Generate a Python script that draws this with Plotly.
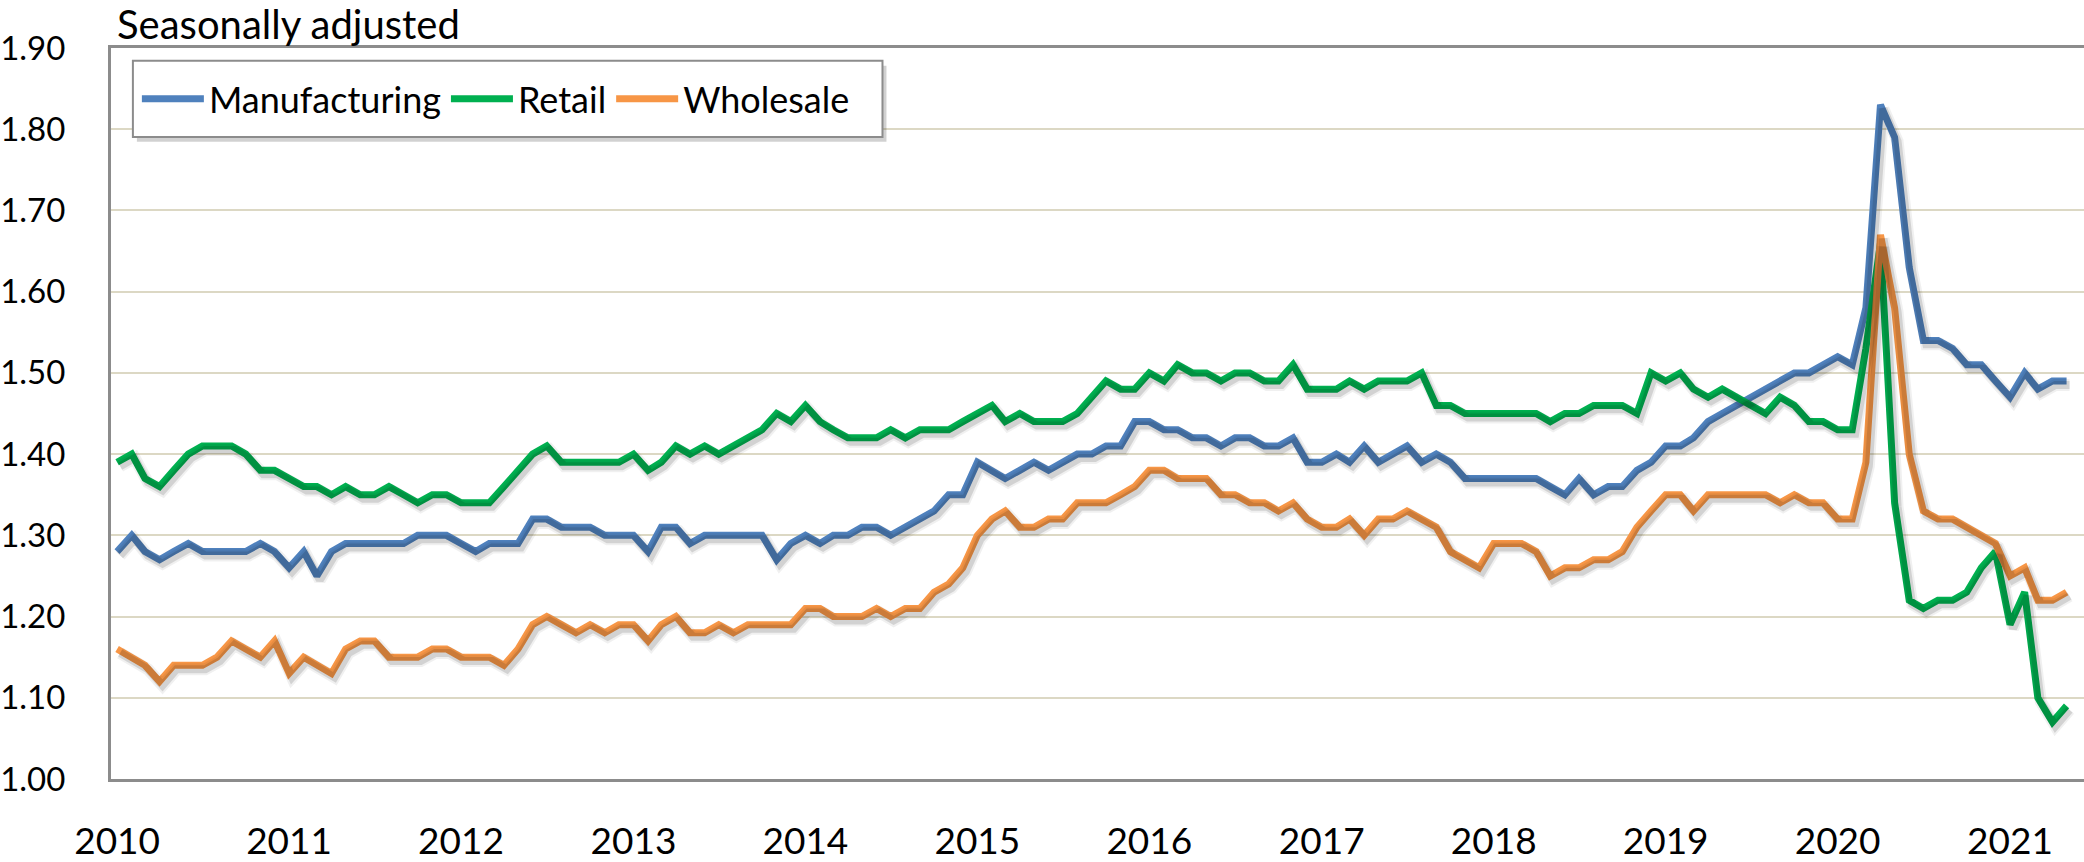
import pandas as pd
import plotly.graph_objects as go

# ---- data (monthly, Jan 2010 - May 2021) ----
start_month = "2010-01-01"
n_months = 137

manufacturing = [
    1.28, 1.30, 1.28, 1.27, 1.28, 1.29, 1.28, 1.28, 1.28, 1.28, 1.29, 1.28,
    1.26, 1.28, 1.25, 1.28, 1.29, 1.29, 1.29, 1.29, 1.29, 1.30, 1.30, 1.30,
    1.29, 1.28, 1.29, 1.29, 1.29, 1.32, 1.32, 1.31, 1.31, 1.31, 1.30, 1.30,
    1.30, 1.28, 1.31, 1.31, 1.29, 1.30, 1.30, 1.30, 1.30, 1.30, 1.27, 1.29,
    1.30, 1.29, 1.30, 1.30, 1.31, 1.31, 1.30, 1.31, 1.32, 1.33, 1.35, 1.35,
    1.39, 1.38, 1.37, 1.38, 1.39, 1.38, 1.39, 1.40, 1.40, 1.41, 1.41, 1.44,
    1.44, 1.43, 1.43, 1.42, 1.42, 1.41, 1.42, 1.42, 1.41, 1.41, 1.42, 1.39,
    1.39, 1.40, 1.39, 1.41, 1.39, 1.40, 1.41, 1.39, 1.40, 1.39, 1.37, 1.37,
    1.37, 1.37, 1.37, 1.37, 1.36, 1.35, 1.37, 1.35, 1.36, 1.36, 1.38, 1.39,
    1.41, 1.41, 1.42, 1.44, 1.45, 1.46, 1.47, 1.48, 1.49, 1.50, 1.50, 1.51,
    1.52, 1.51, 1.58, 1.83, 1.79, 1.63, 1.54, 1.54, 1.53, 1.51, 1.51, 1.49,
    1.47, 1.50, 1.48, 1.49, 1.49,
]

retail = [
    1.39, 1.40, 1.37, 1.36, 1.38, 1.40, 1.41, 1.41, 1.41, 1.40, 1.38, 1.38,
    1.37, 1.36, 1.36, 1.35, 1.36, 1.35, 1.35, 1.36, 1.35, 1.34, 1.35, 1.35,
    1.34, 1.34, 1.34, 1.36, 1.38, 1.40, 1.41, 1.39, 1.39, 1.39, 1.39, 1.39,
    1.40, 1.38, 1.39, 1.41, 1.40, 1.41, 1.40, 1.41, 1.42, 1.43, 1.45, 1.44,
    1.46, 1.44, 1.43, 1.42, 1.42, 1.42, 1.43, 1.42, 1.43, 1.43, 1.43, 1.44,
    1.45, 1.46, 1.44, 1.45, 1.44, 1.44, 1.44, 1.45, 1.47, 1.49, 1.48, 1.48,
    1.50, 1.49, 1.51, 1.50, 1.50, 1.49, 1.50, 1.50, 1.49, 1.49, 1.51, 1.48,
    1.48, 1.48, 1.49, 1.48, 1.49, 1.49, 1.49, 1.50, 1.46, 1.46, 1.45, 1.45,
    1.45, 1.45, 1.45, 1.45, 1.44, 1.45, 1.45, 1.46, 1.46, 1.46, 1.45, 1.50,
    1.49, 1.50, 1.48, 1.47, 1.48, 1.47, 1.46, 1.45, 1.47, 1.46, 1.44, 1.44,
    1.43, 1.43, 1.53, 1.66, 1.34, 1.22, 1.21, 1.22, 1.22, 1.23, 1.26, 1.28,
    1.19, 1.23, 1.10, 1.07, 1.09,
]

wholesale = [
    1.16, 1.15, 1.14, 1.12, 1.14, 1.14, 1.14, 1.15, 1.17, 1.16, 1.15, 1.17,
    1.13, 1.15, 1.14, 1.13, 1.16, 1.17, 1.17, 1.15, 1.15, 1.15, 1.16, 1.16,
    1.15, 1.15, 1.15, 1.14, 1.16, 1.19, 1.20, 1.19, 1.18, 1.19, 1.18, 1.19,
    1.19, 1.17, 1.19, 1.20, 1.18, 1.18, 1.19, 1.18, 1.19, 1.19, 1.19, 1.19,
    1.21, 1.21, 1.20, 1.20, 1.20, 1.21, 1.20, 1.21, 1.21, 1.23, 1.24, 1.26,
    1.30, 1.32, 1.33, 1.31, 1.31, 1.32, 1.32, 1.34, 1.34, 1.34, 1.35, 1.36,
    1.38, 1.38, 1.37, 1.37, 1.37, 1.35, 1.35, 1.34, 1.34, 1.33, 1.34, 1.32,
    1.31, 1.31, 1.32, 1.30, 1.32, 1.32, 1.33, 1.32, 1.31, 1.28, 1.27, 1.26,
    1.29, 1.29, 1.29, 1.28, 1.25, 1.26, 1.26, 1.27, 1.27, 1.28, 1.31, 1.33,
    1.35, 1.35, 1.33, 1.35, 1.35, 1.35, 1.35, 1.35, 1.34, 1.35, 1.34, 1.34,
    1.32, 1.32, 1.39, 1.67, 1.58, 1.40, 1.33, 1.32, 1.32, 1.31, 1.30, 1.29,
    1.25, 1.26, 1.22, 1.22, 1.23,
]

series_names = ["Manufacturing", "Retail", "Wholesale"]
series_colors = ["#4F81BD", "#00B050", "#F79646"]
title_text = "Seasonally adjusted"

dates = pd.date_range(start_month, periods=n_months, freq="MS")
series_values = [manufacturing, retail, wholesale]

# ---- layout geometry (pixels) ----
W, H = 2084, 862
L, R, T, B = 102, 0, 48, 74
plot_w = W - L - R
plot_h = H - T - B
x_lo = dates[0] - pd.Timedelta(days=13)
x_hi = dates[-1] + pd.Timedelta(days=37)
days_span = (x_hi - x_lo).days
px_per_day = plot_w / days_span
y_lo, y_hi = 1.0, 1.9

# shadow offset (pixels)
sdx, sdy = 3, 4
sx_shift = pd.Timedelta(days=sdx / px_per_day)
sy_shift = sdy / plot_h * (y_hi - y_lo)

FONT = "Lato, Carlito, Calibri, sans-serif"
LINE_W = 7

fig = go.Figure()

# soft shadows on overlaid, slightly shifted axes
for vals in series_values:
    for w, a in [(12, 0.06), (8, 0.12)]:
        fig.add_trace(go.Scatter(
            x=dates, y=vals, mode="lines", xaxis="x2", yaxis="y2",
            line=dict(color=f"rgba(0,0,0,{a})", width=w),
            showlegend=False, hoverinfo="skip",
        ))

for name, vals, col in zip(series_names, series_values, series_colors):
    fig.add_trace(go.Scatter(
        x=dates, y=vals, mode="lines", name=name,
        line=dict(color=col, width=LINE_W),
    ))


def px_to_paper_x(px):
    return (px - L) / plot_w


def px_to_paper_y(py):
    return (T + plot_h - py) / plot_h


# legend frame + its shadow
lb_x0, lb_x1, lb_y0, lb_y1 = 124, 877, 61, 138
shapes = [
    dict(type="rect", xref="paper", yref="paper", layer="above",
         x0=px_to_paper_x(lb_x0 + 4), x1=px_to_paper_x(lb_x1 + 4),
         y0=px_to_paper_y(lb_y0 + 5), y1=px_to_paper_y(lb_y1 + 5),
         line=dict(width=0), fillcolor="rgba(0,0,0,0.18)"),
    dict(type="rect", xref="paper", yref="paper", layer="above",
         x0=px_to_paper_x(lb_x0), x1=px_to_paper_x(lb_x1),
         y0=px_to_paper_y(lb_y0), y1=px_to_paper_y(lb_y1),
         line=dict(color="#8C8C8C", width=2), fillcolor="white"),
]

fig.update_layout(
    width=W, height=H,
    margin=dict(l=L, r=R, t=T, b=B, pad=0),
    paper_bgcolor="white", plot_bgcolor="white",
    font=dict(family=FONT, color="black"),
    shapes=shapes,
    showlegend=True,
    legend=dict(
        orientation="h",
        x=px_to_paper_x(128), y=px_to_paper_y(99.5),
        xanchor="left", yanchor="middle",
        bgcolor="rgba(0,0,0,0)", borderwidth=0,
        font=dict(family=FONT, size=36, color="black"),
        itemwidth=62, tracegroupgap=0,
    ),
    xaxis=dict(
        type="date", range=[x_lo, x_hi],
        tick0=start_month, dtick="M12", tickformat="%Y",
        showgrid=False, zeroline=False,
        showline=True, linecolor="#8C8C8C", linewidth=3, mirror=True,
        ticks="", ticklabelstandoff=28,
        tickfont=dict(family=FONT, size=37, color="black"),
    ),
    yaxis=dict(
        range=[y_lo, y_hi], dtick=0.1, tickformat=".2f",
        showgrid=True, gridcolor="#DCD8C4", gridwidth=2,
        zeroline=False,
        showline=True, linecolor="#8C8C8C", linewidth=3, mirror=False,
        ticks="", ticklabelstandoff=36,
        tickfont=dict(family=FONT, size=33, color="black"),
    ),
    xaxis2=dict(
        type="date", overlaying="x",
        range=[x_lo - sx_shift, x_hi - sx_shift],
        visible=False, showgrid=False,
    ),
    yaxis2=dict(
        overlaying="y",
        range=[y_lo + sy_shift, y_hi + sy_shift],
        visible=False, showgrid=False,
    ),
    annotations=[dict(
        text=title_text, xref="paper", yref="paper",
        x=px_to_paper_x(106), y=px_to_paper_y(-3),
        xanchor="left", yanchor="top", showarrow=False,
        font=dict(family=FONT, size=40, color="black"),
    )],
)

fig.write_html(
    "out.html",
    config={"displayModeBar": False},
    post_script="document.body.style.margin='0';document.body.style.overflow='hidden';",
)
